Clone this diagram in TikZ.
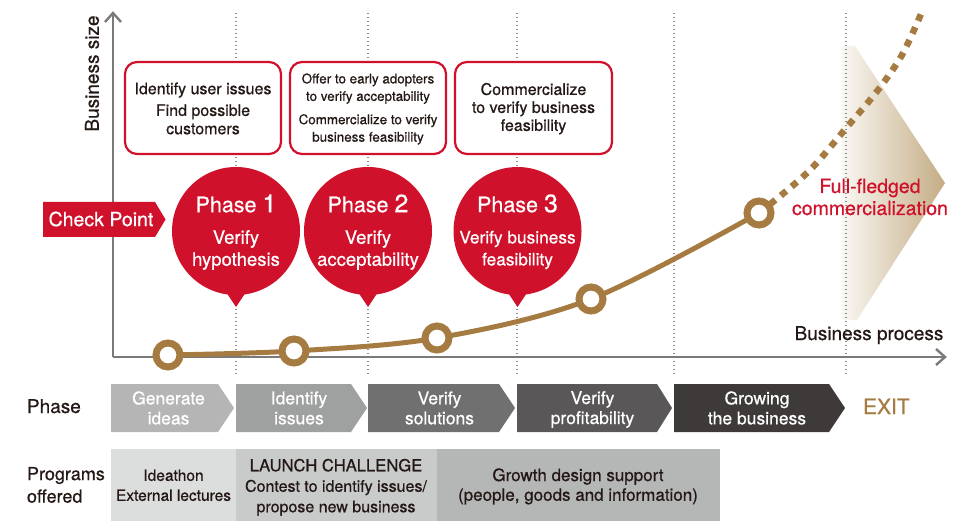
\documentclass[tikz,border=0pt]{standalone}
\usepackage{fontspec}
\setmainfont{TeX Gyre Heros}[FakeBold=0.6]
\definecolor{cpred}{HTML}{D0112B}
\definecolor{cpbrown}{HTML}{A57B41}
\definecolor{cptext}{HTML}{231815}
\definecolor{axisgray}{HTML}{7A7A7A}
\definecolor{dotgray}{HTML}{8C8C8C}
\definecolor{shadeL}{HTML}{FAF8F4}
\definecolor{shadeR}{HTML}{C4AC84}
\definecolor{chevA}{HTML}{B5B5B6}
\definecolor{chevB}{HTML}{9FA0A0}
\definecolor{chevC}{HTML}{717071}
\definecolor{chevD}{HTML}{595758}
\definecolor{chevE}{HTML}{3E3A39}
\definecolor{progA}{HTML}{DCDDDD}
\definecolor{progB}{HTML}{C9CACA}
\definecolor{progC}{HTML}{B5B6B6}
\newcommand\fsz[2]{\fontsize{#1}{#2}\selectfont}
\begin{document}
\begin{tikzpicture}[x=1pt,y=-1pt,
  every node/.style={inner sep=0pt, outer sep=0pt, text=cptext},
  dotline/.style={dotgray, line width=1.3pt, dash pattern=on 1.3pt off 2.7pt},
  axisline/.style={axisgray, line width=2.4pt, line join=miter},
  growth/.style={cpbrown, line width=5pt},
  growthdash/.style={cpbrown, line width=6.5pt, dash pattern=on 7pt off 7pt},
  ring/.style={circle, draw=cpbrown, line width=7pt, fill=white, minimum size=24pt},
  infobox/.style={draw=cpred, line width=2.2pt, rounded corners=12pt, fill=white, minimum width=156pt, minimum height=92pt},
  boxtxt/.style={align=center},
  phcircle/.style={circle, fill=cpred, minimum size=128pt},
  phtitle/.style={text=white, font=\fsz{21.5}{24}},
  phsub/.style={text=white, align=center, font=\fsz{18.5}{22}},
  chevtxt/.style={text=white, align=center, font=\fsz{17.5}{20}},
  progtxt/.style={align=center},
  lbl/.style={font=\fsz{19}{22}, anchor=base west}
]
\useasboundingbox (0,0) rectangle (971,521);

% gradient triangle
\shade[left color=shadeL, right color=shadeR] (841,46) -- (855,46) -- (945,183) -- (857,320) -- (841,320) -- cycle;

% dotted guide lines
\foreach \gx in {236,368,517,674,846} \draw[dotline] (\gx,13) -- (\gx,374);

% axes
\coordinate (origin) at (113,357);
\coordinate (ytip) at (113,13);
\coordinate (xtip) at (945,357);
\draw[axisline] (origin) -- (ytip);
\draw[axisline] (origin) -- (xtip);
\draw[axisline] ([shift={(-8,9)}]ytip) -- (ytip) -- ([shift={(8,9)}]ytip);
\draw[axisline] ([shift={(-9,-8)}]xtip) -- (xtip) -- ([shift={(-9,8)}]xtip);

% growth curve
\coordinate (k1) at (168,355);
\coordinate (k2) at (294,351);
\coordinate (k3) at (437,338);
\coordinate (k4) at (591,299);
\coordinate (k5) at (759,213);
\coordinate (kend) at (921,14);
\draw[growth] plot[smooth, tension=0.55] coordinates {(k1) (k2) (k3) (k4) (k5)};
\draw[growthdash] plot[smooth, tension=0.55] coordinates {(k5) (808,172) (847,127) (878,90) (902,55) (kend)};
\foreach \i in {1,...,5} \node[ring] (r\i) at (k\i) {};

% info boxes
\node[infobox] (b1) at (203,108) {};
\node[infobox] (b2) at (368,108) {};
\node[infobox, minimum width=157pt] (b3) at (533.5,108) {};
\node[boxtxt, font=\fsz{16}{18.3}] (b1t) at (203,108.5) {Identify user issues\\[3.4pt]Find possible\\customers};
\node[boxtxt, font=\fsz{13.4}{17.5}] (b2t) at (368,109) {Offer to early adopters\\to verify acceptability\\[5.8pt]Commercialize to verify\\business feasibility};
\node[boxtxt, font=\fsz{16}{18}] (b3t) at (533.5,108.7) {Commercialize\\to verify business\\feasibility};

% phase circles
\foreach \i/\cx in {1/236,2/368,3/517.5} {
  \node[phcircle] (c\i) at (\cx,231) {};
  \coordinate (c\i tip) at (\cx,307);
  \fill[cpred] ([shift={(-10,-3)}]c\i.south) -- (c\i tip) -- ([shift={(10,-3)}]c\i.south) -- cycle;
}
\node[phtitle] (c1t) at (236,203.5) {Phase {\fsz{25}{25}1}};
\node[phtitle] (c2t) at (368,203.5) {Phase {\fsz{25}{25}2}};
\node[phtitle] (c3t) at (517.5,203.5) {Phase {\fsz{25}{25}3}};
\node[phsub] (c1s) at (236,250) {Verify\\hypothesis};
\node[phsub] (c2s) at (368,250) {Verify\\acceptability};
\node[phsub, font=\fsz{17.3}{22}] (c3s) at (517.5,250) {Verify business\\feasibility};

% check point
\fill[cpred] (43,202) -- (155,202) -- (165.5,219.5) -- (155,237) -- (43,237) -- cycle;
\node[text=white, font=\fsz{19.5}{22}] (cp) at (101,219) {Check Point};

% axis labels and commercialization
\node[font=\fsz{19}{22}, rotate=90] (ysz) at (92,73.5) {Business size};
\node[font=\fsz{19}{22}, anchor=base] (xproc) at (869,340) {Business process};
\node[text=cpred, align=center, font=\fsz{19.5}{22}] (full) at (870,197) {Full-fledged\\commercialization};

% phase chevrons
\fill[chevA] (111,384) -- (218,384) -- (234,408) -- (218,432) -- (111,432) -- cycle;
\fill[chevB] (236,384) -- (351,384) -- (367,408) -- (351,432) -- (236,432) -- cycle;
\fill[chevC] (368,384) -- (499,384) -- (515,408) -- (499,432) -- (368,432) -- cycle;
\fill[chevD] (517,384) -- (657,384) -- (672,408) -- (657,432) -- (517,432) -- cycle;
\fill[chevE] (674,384) -- (829,384) -- (845,408) -- (829,432) -- (674,432) -- cycle;
\node[chevtxt] (h1) at (168.5,408) {Generate\\ideas};
\node[chevtxt] (h2) at (299,408) {Identify\\issues};
\node[chevtxt] (h3) at (439.5,408) {Verify\\solutions};
\node[chevtxt] (h4) at (592.5,409.5) {Verify\\profitability};
\node[chevtxt] (h5) at (757,408) {Growing\\the business};
\node[lbl, font=\fsz{21}{24}, text=cpbrown] (exit) at (863,414) {EXIT};
\node[lbl] (phlbl) at (27,413) {Phase};

% programs
\fill[progA] (111,449) rectangle (236,521);
\fill[progB] (236,449) rectangle (437,521);
\fill[progC] (437,449) rectangle (720,521);
\node[progtxt, font=\fsz{15.5}{20}] (g1) at (173.5,485.3) {Ideathon\\External lectures};
\node[progtxt, font=\fsz{16}{20.5}] (g2) at (336,487.3) {{\fsz{16.6}{20.5}LAUNCH CHALLENGE}\\Contest to identify issues/\\propose new business};
\node[progtxt, font=\fsz{17}{19.7}] (g3) at (578,486.4) {Growth design support\\(people, goods and information)};
\node[align=left, anchor=north west, font=\fsz{18}{22.5}] (prlbl) at (27,467) {Programs\\offered};
\end{tikzpicture}
\end{document}
